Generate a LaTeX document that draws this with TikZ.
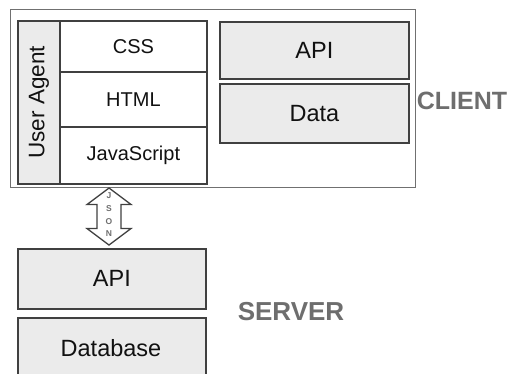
\documentclass[tikz,border=0pt]{standalone}
\usepackage{fontspec}
\setmainfont{Liberation Sans}
\usetikzlibrary{calc}
\definecolor{boxfill}{HTML}{EBEBEB}
\definecolor{boxline}{HTML}{404040}
\definecolor{outerline}{HTML}{707070}
\definecolor{labelgray}{HTML}{6E6E6E}
\definecolor{txt}{HTML}{111111}
\begin{document}
\begin{tikzpicture}[x=1pt,y=-1pt,
  layer/.style={draw=boxline,line width=1.8pt,fill=boxfill,text=txt},
  whitelayer/.style={draw=boxline,line width=1.8pt,fill=white,text=txt},
  bigtxt/.style={font=\fontsize{23.5}{25}\selectfont},
  smalltxt/.style={font=\fontsize{20}{22}\selectfont},
  tierlabel/.style={text=labelgray,font=\fontsize{25}{27}\selectfont\bfseries},
  jsonletter/.style={text=labelgray,font=\fontsize{8.5}{9}\selectfont\bfseries,inner sep=0pt}]
\useasboundingbox (0,0) rectangle (513,374);
\clip (0,0) rectangle (513,374);
% client outer box
\node[draw=outerline,line width=1.2pt,fill=white,minimum width=405pt,minimum height=178pt,inner sep=0pt,anchor=north west] (client) at (10,9) {};
% user agent group
\node[whitelayer,minimum width=189pt,minimum height=163pt,inner sep=0pt,anchor=north west] (ua) at (17,20) {};
\node[layer,minimum width=42pt,minimum height=163pt,inner sep=0pt,anchor=north west] (uacol) at (17,20) {};
\node[font=\fontsize{22.5}{24}\selectfont,rotate=90,text=txt] (uatext) at (uacol.center) {User Agent};
\node[whitelayer,smalltxt,minimum width=147pt,minimum height=51pt,inner sep=0pt,anchor=north west] (css) at (59,20) {CSS};
\node[whitelayer,smalltxt,minimum width=147pt,minimum height=55pt,inner sep=0pt,anchor=north west] (html) at (59,71) {HTML};
\node[whitelayer,smalltxt,minimum width=147pt,minimum height=57pt,inner sep=0pt,anchor=north west] (js) at (59,126) {JavaScript};
% client api/data
\node[layer,bigtxt,minimum width=189pt,minimum height=57pt,inner sep=0pt,anchor=north west] (capi) at (219,21) {API};
\node[layer,bigtxt,minimum width=189pt,minimum height=59pt,inner sep=0pt,anchor=north west] (cdata) at (219,83) {Data};
\node[tierlabel] (clientlabel) at (462,101) {CLIENT};
% server
\node[layer,bigtxt,minimum width=188pt,minimum height=60pt,inner sep=0pt,anchor=north west] (sapi) at (17,248) {API};
\node[layer,minimum width=188pt,minimum height=75pt,inner sep=0pt,anchor=north west] (sdb) at (17,317) {};
\node[bigtxt,text=txt] (sdbtext) at (111,348) {Database};
\node[tierlabel,font=\fontsize{26}{28}\selectfont\bfseries] (serverlabel) at (291,312) {SERVER};
% JSON double arrow
\coordinate (jc) at (109,216.5);
\draw[draw=boxline,line width=1.3pt,fill=white,line join=miter]
  ($(jc)+(0,-28.5)$) -- ($(jc)+(22,-12)$) -- ($(jc)+(12,-12)$) -- ($(jc)+(12,12)$) -- ($(jc)+(22,12)$)
  -- ($(jc)+(0,28.5)$) -- ($(jc)+(-22,12)$) -- ($(jc)+(-12,12)$) -- ($(jc)+(-12,-12)$) -- ($(jc)+(-22,-12)$) -- cycle;
\node[jsonletter] (jj) at ($(jc)+(0,-21)$) {J};
\node[jsonletter] (js1) at ($(jc)+(0,-8)$) {S};
\node[jsonletter] (jo) at ($(jc)+(0,5)$) {O};
\node[jsonletter] (jn) at ($(jc)+(0,17)$) {N};
\end{tikzpicture}
\end{document}
